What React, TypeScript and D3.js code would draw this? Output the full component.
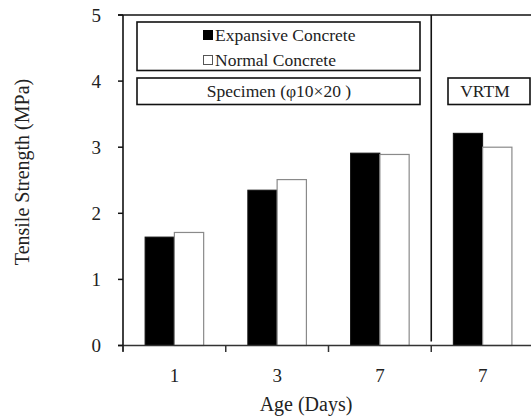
import React from "react";
import * as d3 from "d3";

// Tensile strength by age: standard specimens (1, 3, 7 days) and VRTM (7 days)
const categories = ["1", "3", "7", "7 "];
const tickLabels = ["1", "3", "7", "7"];
const seriesNames = ["Expansive Concrete", "Normal Concrete"];
const expansive = [1.64, 2.35, 2.91, 3.21];
const normal = [1.71, 2.51, 2.89, 3.0];
const yTicks = [0, 1, 2, 3, 4, 5];

const W = 531;
const H = 416;
const left = 123;
const right = 534;
const top = 15;
const bottom = 345.5;
const serif: React.CSSProperties = { fontFamily: "Liberation Serif" };

export default function App() {
  const y = d3.scaleLinear().domain([0, 5]).range([bottom, top]);
  const x = d3
    .scaleBand<string>()
    .domain(categories)
    .range([left, right])
    .paddingInner(0.43)
    .paddingOuter(0.215);
  const sub = d3
    .scaleBand<string>()
    .domain(seriesNames)
    .range([0, x.bandwidth()]);
  const step = x.step();
  const groupEdges = categories.map((_, i) => left + i * step);
  const sepX = left + 3 * step;

  return (
    <svg
      width={W}
      height={H}
      style={{ position: "absolute", left: 0, top: 0, background: "#fff", fontFamily: "Liberation Serif" }}
    >
      {/* bars */}
      {categories.map((c, i) => (
        <g key={c}>
          <rect
            x={(x(c) as number) + (sub(seriesNames[0]) as number)}
            y={y(expansive[i])}
            width={sub.bandwidth()}
            height={bottom - y(expansive[i])}
            fill="#000"
            stroke="#111"
            strokeWidth={1}
          />
          <rect
            x={(x(c) as number) + (sub(seriesNames[1]) as number)}
            y={y(normal[i])}
            width={sub.bandwidth()}
            height={bottom - y(normal[i])}
            fill="#fff"
            stroke="#8a8a8a"
            strokeWidth={1.2}
          />
        </g>
      ))}

      {/* frame lines */}
      <line x1={left - 5} x2={W} y1={top} y2={top} stroke="#111" strokeWidth={1.6} />
      <line x1={left - 5} x2={W} y1={bottom} y2={bottom} stroke="#333" strokeWidth={1.6} />
      <line x1={left} x2={left} y1={top} y2={bottom + 6} stroke="#111" strokeWidth={1.6} />
      <line x1={sepX} x2={sepX} y1={top} y2={bottom - 4} stroke="#111" strokeWidth={1.6} />

      {/* y ticks */}
      {yTicks.map((t) => (
        <g key={t}>
          <line x1={left - 5} x2={left} y1={y(t)} y2={y(t)} stroke="#111" strokeWidth={1.5} />
          <text x={101} y={y(t) + 6.5} textAnchor="end" fontSize={19} fill="#222" style={serif}>
            {t}
          </text>
        </g>
      ))}

      {/* x ticks */}
      {groupEdges.map((gx, i) => (
        <line key={i} x1={gx} x2={gx} y1={bottom} y2={bottom + 6.5} stroke="#333" strokeWidth={1.5} />
      ))}
      {categories.map((c, i) => (
        <text
          key={c}
          x={(x(c) as number) + x.bandwidth() / 2}
          y={381.5}
          textAnchor="middle"
          fontSize={19}
          fill="#222"
          style={serif}
        >
          {tickLabels[i]}
        </text>
      ))}

      {/* axis titles */}
      <text x={306} y={411} textAnchor="middle" fontSize={20} fill="#222" style={serif}>
        Age (Days)
      </text>
      <text
        transform="translate(29,172) rotate(-90)"
        textAnchor="middle"
        fontSize={20}
        fill="#222"
        style={serif}
      >
        Tensile Strength (MPa)
      </text>

      {/* legend */}
      <rect x={137} y={22} width={283} height={48.5} fill="#fff" stroke="#111" strokeWidth={1.6} />
      <rect x={203} y={30} width={10} height={10} fill="#000" />
      <text x={215} y={41} fontSize={17.5} fill="#222" style={serif}>
        {seriesNames[0]}
      </text>
      <rect x={203.5} y={55.5} width={9} height={9} fill="#fff" stroke="#555" strokeWidth={1} />
      <text x={215} y={66} fontSize={17.5} fill="#222" style={serif}>
        {seriesNames[1]}
      </text>

      {/* section labels */}
      <rect x={137} y={78} width={283} height={26.5} fill="#fff" stroke="#111" strokeWidth={1.6} />
      <text x={279} y={97} textAnchor="middle" fontSize={17.5} fill="#222" style={serif}>
        Specimen (φ10×20 )
      </text>
      <rect x={448} y={78} width={82} height={26.5} fill="#fff" stroke="#111" strokeWidth={1.6} />
      <text x={485} y={97} textAnchor="middle" fontSize={17.5} fill="#222" style={serif}>
        VRTM
      </text>
    </svg>
  );
}
